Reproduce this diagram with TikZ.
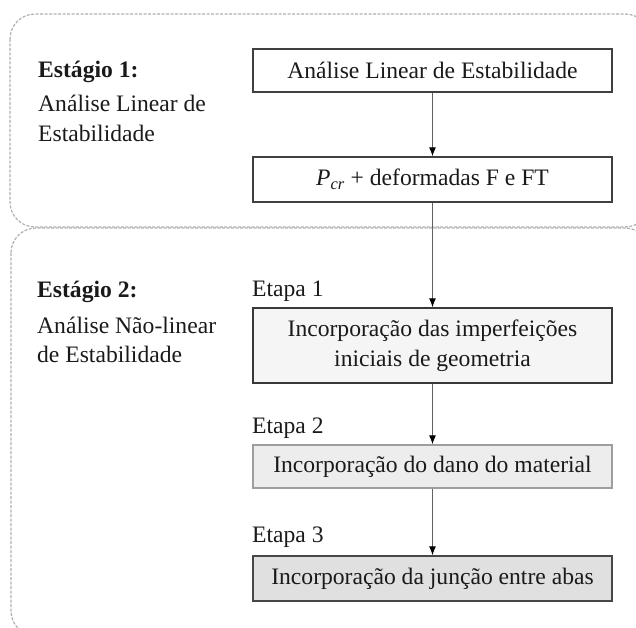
\documentclass[tikz,border=0pt]{standalone}
\usepackage{fontspec}
\setmainfont{Liberation Serif}
\usetikzlibrary{arrows.meta}
\definecolor{framegray}{HTML}{B0B0B0}
\definecolor{txt}{HTML}{1A1A1A}
\tikzset{
  frame/.style={draw=framegray, line width=1.2bp, dash pattern=on 3bp off 1.5bp, rounded corners=25bp},
  lbl/.style={anchor=base west, inner sep=0pt, text=txt, font=\fontsize{23.6bp}{29.5bp}\selectfont},
  boxbase/.style={minimum width=359bp, inner sep=0pt, align=center, text=txt, line width=1.4bp, font=\fontsize{23.6bp}{29.5bp}\selectfont},
  whitebox/.style={boxbase, draw=black!75, fill=white},
  etapaone/.style={boxbase, draw=black!78, fill=black!4},
  etapatwo/.style={boxbase, draw=black!38, fill=black!7},
  etapathree/.style={boxbase, draw=black!72, fill=black!12},
  conn/.style={draw=black!62, line width=1bp, -{Latex[length=9bp,width=7bp,color=black]}}
}
\begin{document}
\begin{tikzpicture}[x=1bp,y=-1bp]
\useasboundingbox (0,0) rectangle (636,628);
\clip (0,0) rectangle (636,628);
% frames
\draw[frame] (10,14) rectangle (650,227);
\draw[frame] (11,228) rectangle (650,636);
% stage labels
\node[lbl, font=\fontsize{23.6bp}{29.5bp}\selectfont\bfseries] (s1t) at (38,78) {Estágio 1:};
\node[lbl] (s1a) at (38,112) {Análise Linear de};
\node[lbl] (s1b) at (38,142) {Estabilidade};
\node[lbl, font=\fontsize{23.6bp}{29.5bp}\selectfont\bfseries] (s2t) at (37,297) {Estágio 2:};
\node[lbl] (s2a) at (37,333) {Análise Não-linear};
\node[lbl] (s2b) at (37,362) {de Estabilidade};
% etapa labels
\node[lbl] (e1l) at (252,296) {Etapa 1};
\node[lbl] (e2l) at (252,433) {Etapa 2};
\node[lbl] (e3l) at (252,542) {Etapa 3};
% boxes
\node[whitebox, minimum height=43bp] (b1) at (432.5,70.5) {Análise Linear de Estabilidade};
\node[whitebox, minimum height=45bp] (b2) at (432.5,179.5) {\textit{P}\textsubscript{\textit{cr}} + deformadas F e FT};
\node[etapaone, minimum height=75bp] (b3) at (432.5,345.5) {Incorporação das imperfeições\\iniciais de geometria};
\node[etapatwo, minimum height=43bp] (b4) at (432.5,466.5) {Incorporação do dano do material};
\node[etapathree, minimum height=45bp] (b5) at (432.5,578.5) {Incorporação da junção entre abas};
% connectors
\draw[conn] (b1) -- (b2);
\draw[conn] (b2) -- (b3);
\draw[conn] (b3) -- (b4);
\draw[conn] (b4) -- (b5);
\end{tikzpicture}
\end{document}
